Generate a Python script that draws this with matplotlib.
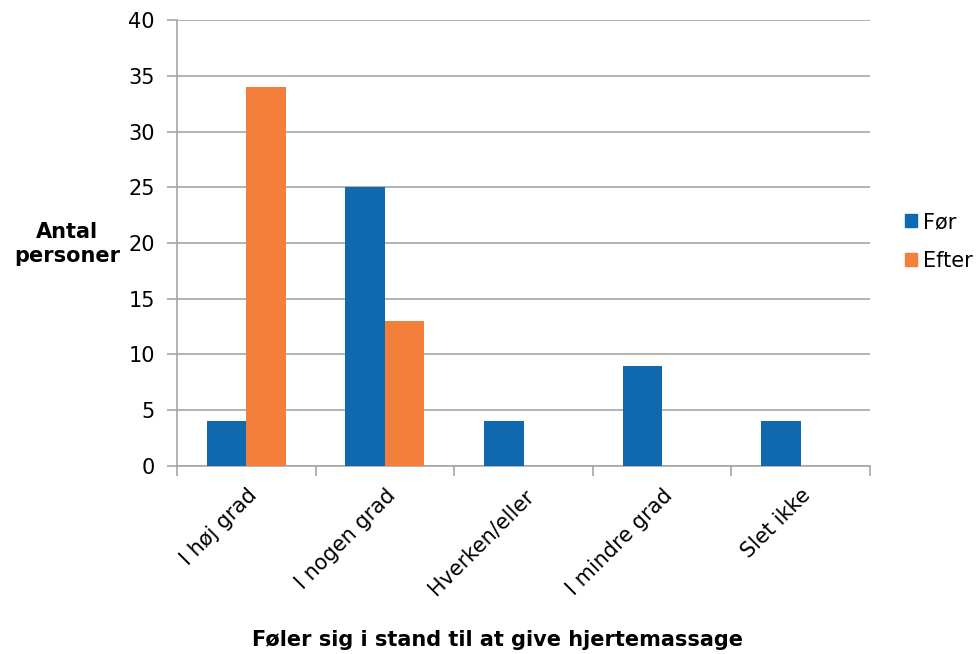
import matplotlib.pyplot as plt
import numpy as np
from matplotlib.patches import Patch

# Survey answers before and after the course
categories = ['I høj grad', 'I nogen grad', 'Hverken/eller', 'I mindre grad', 'Slet ikke']
foer = [4, 25, 4, 9, 4]
efter = [34, 13, 0, 0, 0]

blue = '#1069AE'
orange = '#F47F3A'
grid_grey = '#A6A6A6'

plt.rcParams['font.family'] = 'DejaVu Sans'
plt.rcParams['font.size'] = 15

fig = plt.figure(figsize=(9.77, 6.54), dpi=100)
ax = fig.add_axes([0.1812, 0.2875, 0.7093, 0.6819])

x = np.arange(len(categories))
w = 0.285
ax.bar(x - w / 2, foer, w, color=blue, zorder=3)
ax.bar(x + w / 2, efter, w, color=orange, zorder=3)

ax.set_xlim(-0.5, len(categories) - 0.5)
ax.set_ylim(0, 40)
ax.set_yticks(range(0, 41, 5))
ax.yaxis.grid(True, color=grid_grey, linewidth=1.2, zorder=0)

# ticks sit on the category borders, labels at the centres
ax.set_xticks(np.arange(-0.5, len(categories), 1.0))
ax.set_xticklabels([])
ax.set_xticks(x, minor=True)
ax.set_xticklabels(categories, minor=True, rotation=45, ha='right',
                   rotation_mode='anchor')
ax.tick_params(axis='x', which='minor', length=0, pad=14)
ax.tick_params(axis='x', which='major', length=7, color=grid_grey, width=1.2)
ax.tick_params(axis='y', length=7, color=grid_grey, width=1.2, pad=9)

for side in ['top', 'right']:
    ax.spines[side].set_visible(False)
for side in ['left', 'bottom']:
    ax.spines[side].set_color(grid_grey)
    ax.spines[side].set_linewidth(1.2)

fig.text(0.069, 0.627, 'Antal\npersoner', ha='center', va='center',
         fontweight='bold', linespacing=1.3)
fig.text(0.509, 0.0214, 'Føler sig i stand til at give hjertemassage',
         ha='center', va='center', fontweight='bold')

handles = [Patch(color=blue), Patch(color=orange)]
fig.legend(handles, ['Før', 'Efter'], loc='center left',
           bbox_to_anchor=(0.926, 0.631), frameon=False,
           handlelength=0.6, handleheight=0.6, handletextpad=0.3,
           labelspacing=0.9, borderaxespad=0, borderpad=0)

fig.savefig('out.png', dpi=100)
